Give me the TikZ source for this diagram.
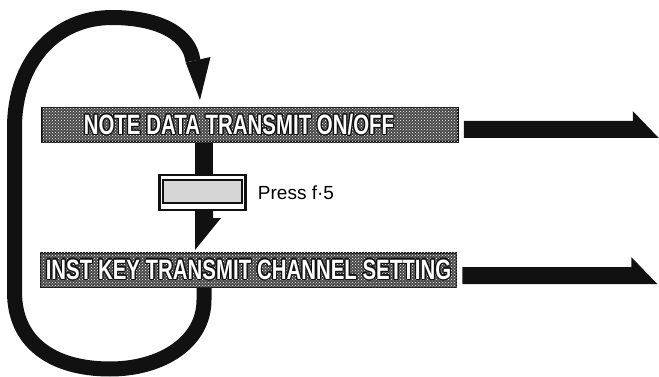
\documentclass[tikz,border=0pt]{standalone}
\usepackage{fontspec}
\setmainfont{Liberation Sans}
\newfontfamily\bannerfont[FakeStretch=0.73]{Liberation Sans}
\usepackage[copies]{contour}
\contourlength{1.1pt}
\usetikzlibrary{patterns,positioning}
\definecolor{ink}{HTML}{111111}
\definecolor{speckle}{HTML}{474747}
\definecolor{keyface}{HTML}{D6D6D6}

\begin{document}
\begin{tikzpicture}[x=1pt, y=-1pt,
    banner/.style={draw=ink, line width=1.5pt, fill=speckle,
      postaction={pattern=crosshatch dots, pattern color=white},
      minimum width=416pt, minimum height=34.5pt, inner sep=0pt,
      text=white, font=\bannerfont\bfseries\fontsize{28}{28}\selectfont},
    keycap/.style={draw=ink, line width=2.5pt, fill=white,
      minimum width=86pt, minimum height=34.5pt, inner sep=0pt},
    loopband/.style={draw=ink, line width=15pt}]
  \useasboundingbox (0,0) rectangle (659,377);

  % the two mode banners
  \node[banner] (noteon) at (250,125)
    {\contour{ink}{NOTE DATA TRANSMIT ON/OFF}\hspace*{22pt}};
  \node[banner] (instkey) at (248.5,270)
    {\contour{ink}{INST KEY TRANSMIT CHANNEL SETTING}};
  \coordinate (spine) at (204,0);
  \coordinate (looptip) at (200,100);

  % banners lead off to the right
  \fill[ink] ([shift={(5,-4)}]noteon.east) -- ++(169,0) -- ++(0,-10)
    -- ++(26,27) -- ++(-195,0) -- cycle;
  \fill[ink] ([shift={(5,-3)}]instkey.east) -- ++(169,0) -- ++(0,-10)
    -- ++(26,27) -- ++(-195,0) -- cycle;

  % f-5 key steps down to the next mode
  \fill[ink] ([xshift=-9pt]noteon.south -| spine) rectangle (213,200);
  \node[keycap] (fkey) at (202.5,192.5) {};
  \draw[ink, line width=1.8pt, fill=keyface]
    ([shift={(5,6)}]fkey.north west) rectangle ([shift={(-5,-8)}]fkey.south east);
  \fill[ink] ([xshift=-9pt]fkey.south -| spine) -- ++(18,0) -- ++(0,7)
    -- ++(8,0) -- ([xshift=-9pt,yshift=2pt]instkey.north -| spine) -- cycle;
  \node[right=11pt of fkey, inner sep=0pt, font=\fontsize{19}{19}\selectfont]
    (press) {Press f·5};

  % back round to the first mode
  \draw[loopband] (instkey.south -| spine) -- (204,300)
    .. controls (204,342) and (162,369) .. (110,369)
    .. controls (52,369) and (14.5,342) .. (14.5,292) -- (14.5,128)
    .. controls (14.5,62) and (55,17.5) .. (112,17.5)
    .. controls (162,17.5) and (190,36) .. (193,61);
  \fill[ink] (185.7,62.6) -- (210.5,57) -- (looptip) -- cycle;
\end{tikzpicture}
\end{document}
